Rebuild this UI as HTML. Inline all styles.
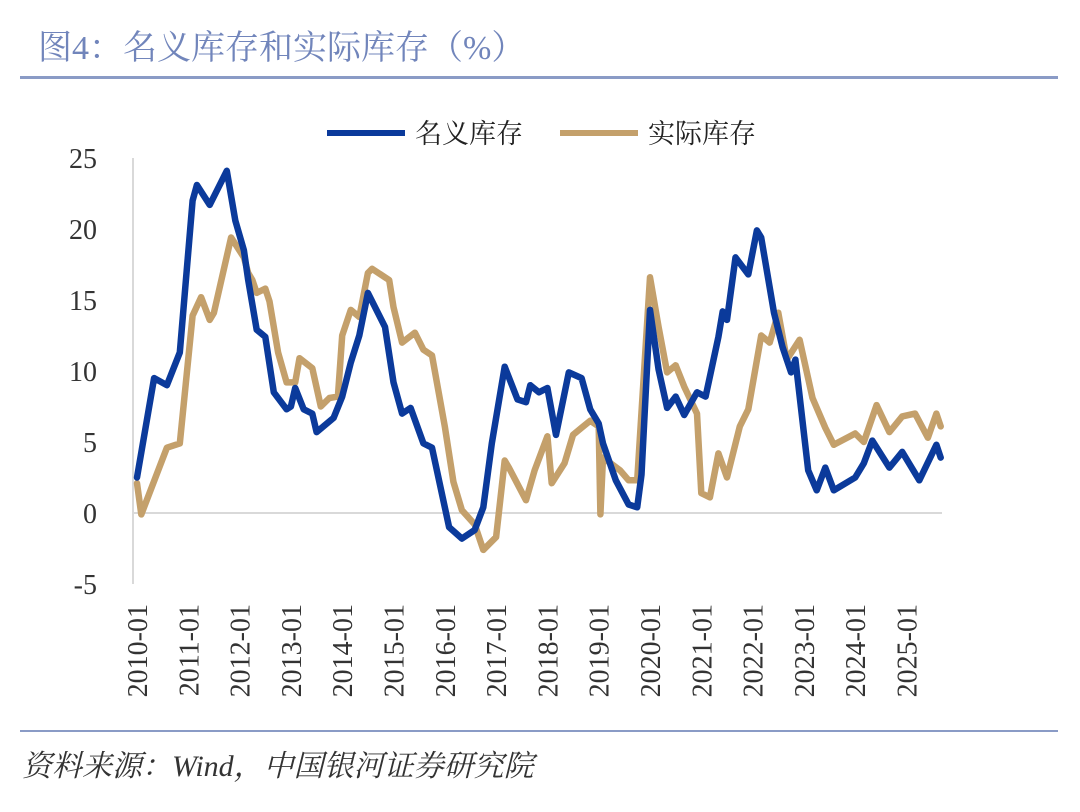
<!DOCTYPE html>
<html><head><meta charset="utf-8"><style>
body{margin:0;background:#fff;width:1080px;height:812px;overflow:hidden;font-family:"Liberation Serif","Noto Serif CJK SC",serif;}
</style></head><body>
<svg id="chart" width="1080" height="812" style="position:absolute;left:0;top:0">
<text x="38" y="59" font-size="34" fill="#7185bb" font-family="Liberation Serif,'Noto Serif CJK SC',serif">图4：名义库存和实际库存（%）</text>
<rect x="20" y="76" width="1038" height="3" fill="#8a9bc6"/>
<rect x="20" y="730" width="1038" height="2" fill="#8a9bc6"/>
<text x="22" y="776" font-size="30" font-style="italic" fill="#333" font-family="Liberation Serif,'Noto Serif CJK SC',serif">资料来源：Wind，中国银河证券研究院</text>
<g>
<line x1="327" y1="133" x2="405" y2="133" stroke="#0b3a9b" stroke-width="6"/>
<text x="415" y="143" font-size="27" fill="#222">名义库存</text>
<line x1="560" y1="133" x2="638" y2="133" stroke="#c4a06b" stroke-width="6"/>
<text x="648" y="143" font-size="27" fill="#222">实际库存</text>
</g>
<g id="axes"></g>
<g id="series"></g>
</svg>
<script>
const yTicks=[25,20,15,10,5,0,-5];
const xTickLabels=["2010-01","2011-01","2012-01","2013-01","2014-01","2015-01","2016-01","2017-01","2018-01","2019-01","2020-01","2021-01","2022-01","2023-01","2024-01","2025-01"];
const nominalMonths=[0,4,7,10,13,14,17,21,23,25,26,28,30,32,35,36,37,39,41,42,46,48,50,52,54,58,60,62,64,67,69,73,76,79,81,83,86,89,91,92,94,96,98,101,104,106,108,109,112,115,117,118,120,122,124,126,128,131,133,136,137,138,140,143,145,146,149,151,153,154,157,159,161,163,168,170,172,176,179,183,187,188];
const nominalValues=[2.5,9.5,9.0,11.3,22.0,23.1,21.7,24.1,20.6,18.5,16.4,12.9,12.4,8.5,7.3,7.5,8.8,7.3,7.0,5.7,6.7,8.2,10.6,12.5,15.5,13.1,9.2,7.0,7.4,4.9,4.6,-1.0,-1.8,-1.2,0.4,4.9,10.3,8.0,7.8,9.0,8.5,8.8,5.5,9.9,9.5,7.3,6.3,4.9,2.3,0.6,0.4,2.7,14.3,10.1,7.4,8.2,6.9,8.5,8.2,12.4,14.2,13.6,18.0,16.8,19.9,19.4,14.1,11.7,9.9,10.8,3.0,1.6,3.2,1.6,2.5,3.5,5.1,3.2,4.3,2.3,4.8,3.9];
const realMonths=[0,1,7,10,13,15,17,18,22,25,26,27,28,30,31,33,35,37,38,41,43,45,47,48,50,52,54,55,59,60,62,65,67,69,72,74,76,79,81,84,86,87,91,93,96,97,100,102,104,106,108,108.4,109,113,115,117,120,122,124,126,128,131,132,134,136,138,141,143,146,148,150,152,155,158,161,163,168,170,173,176,179,182,185,187,188];
const realValues=[2.1,-0.1,4.6,4.9,13.9,15.2,13.6,14.1,19.4,18.0,16.9,16.4,15.5,15.8,14.9,11.3,9.2,9.2,10.9,10.2,7.5,8.1,8.2,12.5,14.3,13.8,16.9,17.2,16.4,14.5,12.0,12.7,11.5,11.1,6.1,2.2,0.2,-0.8,-2.6,-1.7,3.7,3.2,0.9,3.0,5.4,2.1,3.5,5.5,6.0,6.5,6.1,-0.1,3.9,3.0,2.3,2.3,16.6,13.1,9.9,10.4,8.9,7.0,1.4,1.1,4.2,2.5,6.1,7.3,12.5,12.0,14.1,10.8,12.2,8.1,6.0,4.8,5.6,5.0,7.6,5.7,6.8,7.0,5.3,7.0,6.1];
const NS="http://www.w3.org/2000/svg";
const X0=137,PXM=4.275,Y0=513,PXV=14.2;
function xScale(m){return X0+m*PXM;}
function yScale(v){return Y0-v*PXV;}
const axes=document.getElementById('axes');
function mk(t,a,p){const e=document.createElementNS(NS,t);for(const k in a)e.setAttribute(k,a[k]);p.appendChild(e);return e;}
const yl=mk('line',{x1:133,y1:yScale(25),x2:133,y2:yScale(-5),stroke:'#d9d9d9','stroke-width':2},axes);


const zl=mk('line',{x1:133,y1:yScale(0),x2:942,y2:yScale(0),stroke:'#d9d9d9','stroke-width':2},axes);


yTicks.forEach(v=>{const t=mk('text',{x:97,y:yScale(v)+10,'text-anchor':'end','font-size':28,fill:'#333'},axes);t.textContent=v;

});
xTickLabels.forEach((s,i)=>{const x=xScale(i*12)+10;const t=mk('text',{x:0,y:0,transform:`translate(${x},604) rotate(-90)`,'text-anchor':'end','font-size':28,fill:'#333'},axes);t.textContent=s;

});
const ser=document.getElementById('series');
function path(ms,vs,c,name){const d=ms.map((m,i)=>(i?'L':'M')+xScale(m).toFixed(1)+' '+yScale(vs[i]).toFixed(1)).join(' ');
const p=mk('path',{d:d,fill:'none',stroke:c,'stroke-width':6.5,'stroke-linejoin':'round','stroke-linecap':'round'},ser);

}
path(realMonths,realValues,'#c4a06b','real-inventory-line');
path(nominalMonths,nominalValues,'#0b3a9b','nominal-inventory-line');
</script>
</body></html>
